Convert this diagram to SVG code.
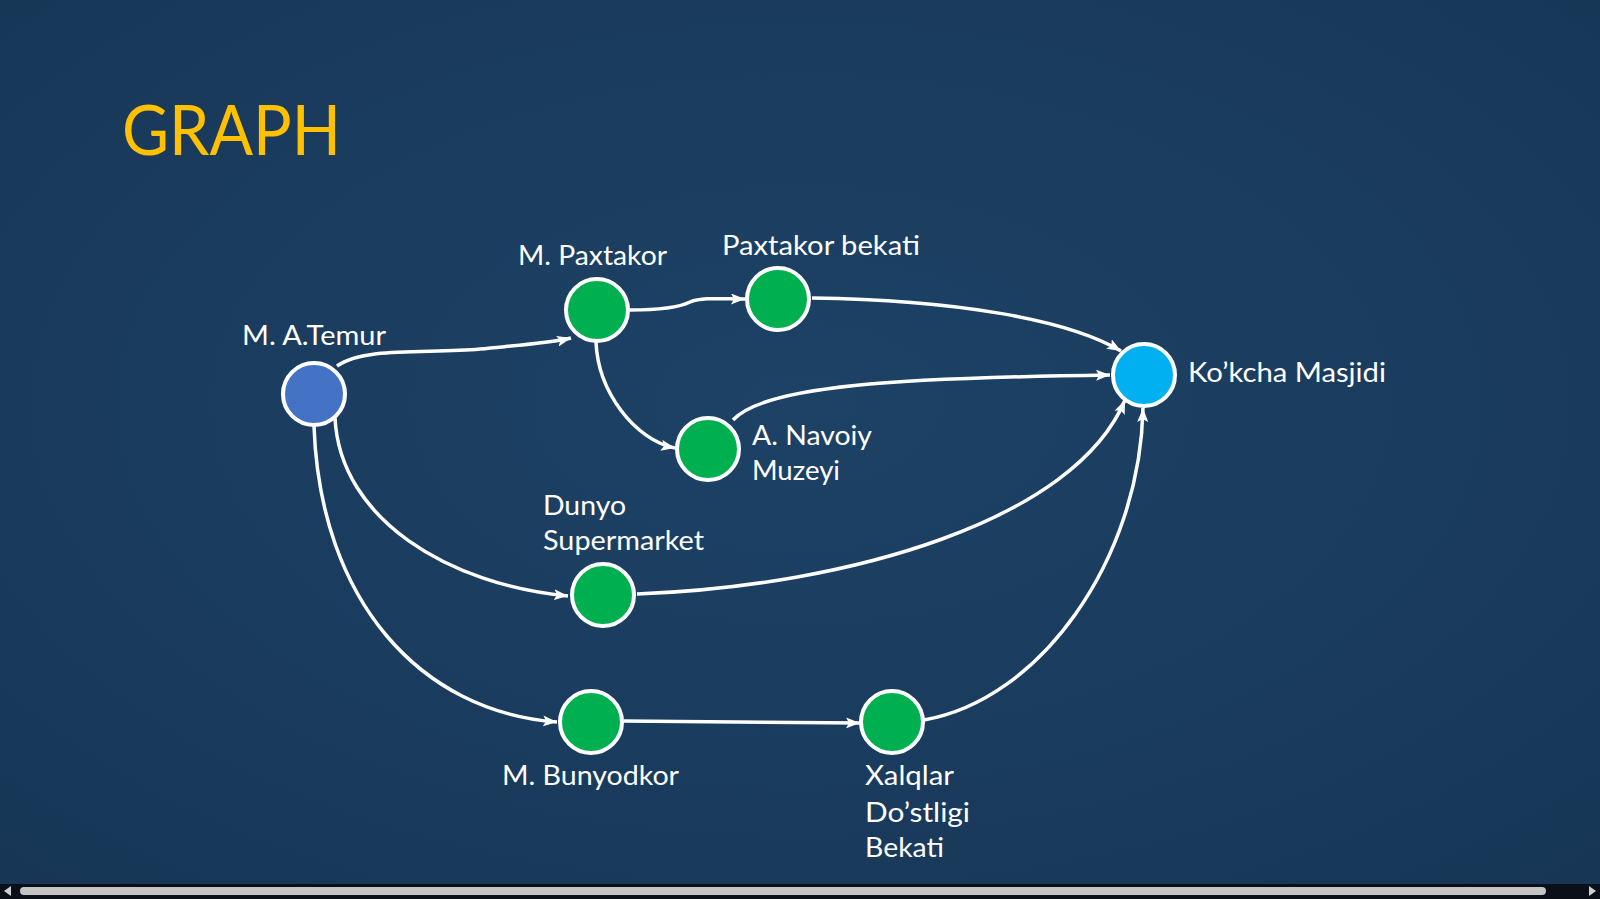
<svg xmlns="http://www.w3.org/2000/svg" width="1600" height="899" viewBox="0 0 1600 899">
<defs>
<radialGradient id="bg" cx="0.5" cy="0.45" r="0.75">
<stop offset="0" stop-color="#1d4266"/>
<stop offset="1" stop-color="#173656"/>
</radialGradient>
<marker id="arr" viewBox="0 0 14 11" refX="14" refY="5.5" markerWidth="14" markerHeight="11" markerUnits="userSpaceOnUse" orient="auto">
<path d="M0,0 L14,5.5 L0,11 L3,5.5 Z" fill="#ffffff"/>
</marker>
<style>
.lbl{font-family:Lato,"Liberation Sans",sans-serif;font-size:26px;fill:#ffffff}
.edge{fill:none;stroke:#ffffff;stroke-width:3.5;marker-end:url(#arr)}
.node{stroke:#ffffff;stroke-width:4}
.g{fill:#00b050}
</style>
</defs>
<rect x="0" y="0" width="1600" height="899" fill="url(#bg)"/>
<text x="122" y="155" font-family="Lato,'Liberation Sans',sans-serif" font-size="70" fill="#ffc000" textLength="219" lengthAdjust="spacingAndGlyphs">GRAPH</text>
<g id="connectors">
<path class="edge" d="M337,366 C365,346 430,354 480,349 C520,345 550,343 571,338"/>
<path class="edge" d="M630,310 C660,310 680,307 690,302 C702,297 722,299 745,299"/>
<path class="edge" d="M596,342 C598,392 635,440 675,448"/>
<path class="edge" d="M812,298 C950,300 1065,318 1121,351"/>
<path class="edge" d="M733,420 C765,385 900,378 1110,375"/>
<path class="edge" d="M335,418 C340,520 450,585 568,596"/>
<path class="edge" d="M637,594 C850,586 1075,520 1125,400"/>
<path class="edge" d="M314,426 C320,600 420,712 557,722"/>
<path class="edge" d="M624,721 L860,723"/>
<path class="edge" d="M924,720 C1040,700 1140,560 1143,408"/>
</g>
<g id="n-temur"><circle class="node" cx="314" cy="394" r="31" fill="#4472c4"/><text class="lbl" x="242" y="345" textLength="144" lengthAdjust="spacingAndGlyphs">M. A.Temur</text></g>
<g id="n-paxtakor"><circle class="node g" cx="597" cy="310" r="31"/><text class="lbl" x="518" y="265" textLength="149" lengthAdjust="spacingAndGlyphs">M. Paxtakor</text></g>
<g id="n-paxtakor-bekati"><circle class="node g" cx="778" cy="299" r="31"/><text class="lbl" x="722" y="255" textLength="198" lengthAdjust="spacingAndGlyphs">Paxtakor bekati</text></g>
<g id="n-navoiy"><circle class="node g" cx="708" cy="449" r="31"/><text class="lbl" x="752" y="445" textLength="120" lengthAdjust="spacingAndGlyphs">A. Navoiy</text><text class="lbl" x="752" y="480" textLength="88" lengthAdjust="spacingAndGlyphs">Muzeyi</text></g>
<g id="n-kokcha"><circle class="node" cx="1144" cy="375" r="31" fill="#00b0f0"/><text class="lbl" x="1188" y="382" textLength="198" lengthAdjust="spacingAndGlyphs">Ko’kcha Masjidi</text></g>
<g id="n-dunyo"><circle class="node g" cx="603" cy="595" r="31"/><text class="lbl" x="543" y="515" textLength="83" lengthAdjust="spacingAndGlyphs">Dunyo</text><text class="lbl" x="543" y="550" textLength="161" lengthAdjust="spacingAndGlyphs">Supermarket</text></g>
<g id="n-bunyodkor"><circle class="node g" cx="591" cy="722" r="31"/><text class="lbl" x="502" y="785" textLength="177" lengthAdjust="spacingAndGlyphs">M. Bunyodkor</text></g>
<g id="n-xalqlar"><circle class="node g" cx="892" cy="722" r="31"/><text class="lbl" x="865" y="785" textLength="89" lengthAdjust="spacingAndGlyphs">Xalqlar</text><text class="lbl" x="865" y="822" textLength="105" lengthAdjust="spacingAndGlyphs">Do’stligi</text><text class="lbl" x="865" y="857" textLength="79" lengthAdjust="spacingAndGlyphs">Bekati</text></g>
<rect x="0" y="884" width="1600" height="15" fill="#0a0f18"/>
<rect x="20" y="887" width="1526" height="8" rx="4" fill="#c4c4c4"/>
<path d="M4,891 L11,886 L11,896 Z" fill="#d0d0d0"/>
<path d="M1596,891 L1589,886 L1589,896 Z" fill="#d0d0d0"/>
</svg>
